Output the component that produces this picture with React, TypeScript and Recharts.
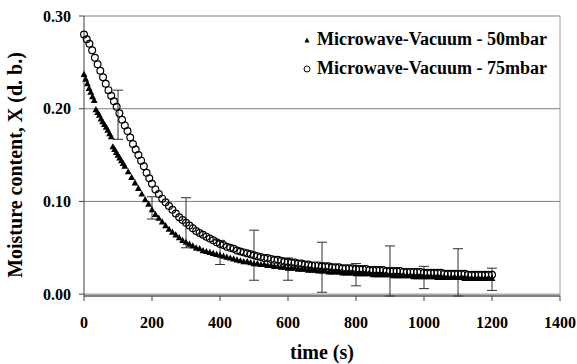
import React from 'react';
import {
  ScatterChart, Scatter, XAxis, YAxis, CartesianGrid, ErrorBar, ReferenceLine, Legend, Label,
} from 'recharts';

const times50 = [0, 5, 10, 15, 20, 25, 30, 35, 40, 45, 50, 55, 60, 65, 70, 75, 80, 85, 90, 95, 100, 105, 110, 115, 120,
  130, 140, 150, 160, 170, 180, 190, 200, 210, 220, 230, 240, 250, 260, 270, 280, 290, 300, 310, 320, 330, 340, 350, 360, 370, 380, 390,
  400, 410, 420, 430, 440, 450, 460, 470, 480, 490, 500, 510, 520, 530, 540, 550, 560, 570, 580, 590, 600, 610, 620, 630, 640, 650, 660,
  670, 680, 690, 700, 710, 720, 730, 740, 750, 760, 770, 780, 790, 800, 810, 820, 830, 840, 850, 860, 870, 880, 890, 900, 910, 920, 930,
  940, 950, 960, 970, 980, 990, 1000, 1010, 1020, 1030, 1040, 1050, 1060, 1070, 1080, 1090, 1100, 1110, 1120, 1130, 1140, 1150, 1160,
  1170, 1180, 1190, 1200];
const moisture50 = [0.237, 0.232, 0.227, 0.222, 0.218, 0.213, 0.209, 0.199, 0.196, 0.193, 0.189, 0.186, 0.183, 0.180, 0.177, 0.173, 0.170,
  0.159, 0.156, 0.153, 0.150, 0.147, 0.144, 0.141, 0.138,
  0.132, 0.126, 0.120, 0.114, 0.108, 0.102, 0.097, 0.091, 0.086, 0.082, 0.078, 0.074, 0.070, 0.067, 0.064, 0.061, 0.058, 0.056, 0.054,
  0.052, 0.050, 0.049, 0.047, 0.046, 0.045, 0.044, 0.043, 0.042, 0.041, 0.040, 0.039, 0.038, 0.037, 0.036, 0.035, 0.035, 0.034, 0.033,
  0.033, 0.032, 0.032, 0.031, 0.031, 0.030, 0.030, 0.029, 0.029, 0.028, 0.028, 0.028, 0.027, 0.027, 0.027, 0.026, 0.026, 0.026, 0.025,
  0.025, 0.025, 0.024, 0.024, 0.024, 0.024, 0.023, 0.023, 0.023, 0.023, 0.022, 0.022, 0.022, 0.022, 0.022, 0.021, 0.021, 0.021, 0.021,
  0.021, 0.021, 0.020, 0.020, 0.020, 0.020, 0.020, 0.020, 0.019, 0.019, 0.019, 0.019, 0.019, 0.019, 0.019, 0.018, 0.018, 0.018, 0.018,
  0.018, 0.018, 0.018, 0.018, 0.017, 0.017, 0.017, 0.017, 0.017, 0.017, 0.017, 0.017, 0.017];

const times75 = [0, 8, 16, 24, 32, 40, 48, 56, 64, 72, 80, 88, 96, 104, 112, 120, 128, 136, 144, 152, 160, 168, 176, 184, 192, 200,
  210, 220, 230, 240, 250, 260, 270, 280, 290, 300, 310, 320, 330, 340, 350, 360, 370, 380, 390,
  400, 410, 420, 430, 440, 450, 460, 470, 480, 490, 500, 510, 520, 530, 540, 550, 560, 570, 580, 590, 600, 610, 620, 630, 640, 650, 660,
  670, 680, 690, 700, 710, 720, 730, 740, 750, 760, 770, 780, 790, 800, 810, 820, 830, 840, 850, 860, 870, 880, 890, 900, 910, 920, 930,
  940, 950, 960, 970, 980, 990, 1000, 1010, 1020, 1030, 1040, 1050, 1060, 1070, 1080, 1090, 1100, 1110, 1120, 1130, 1140, 1150, 1160,
  1170, 1180, 1190, 1200];
const moisture75 = [0.280, 0.275, 0.270, 0.263, 0.255, 0.248, 0.241, 0.234, 0.227, 0.220, 0.214, 0.208, 0.202, 0.195, 0.188, 0.182,
  0.176, 0.169, 0.162, 0.156, 0.150, 0.144, 0.138, 0.131, 0.125, 0.119,
  0.113, 0.108, 0.103, 0.099, 0.095, 0.091, 0.087, 0.083, 0.080, 0.077, 0.074, 0.071, 0.068, 0.066, 0.064, 0.062, 0.060, 0.058, 0.056,
  0.054, 0.053, 0.051, 0.050, 0.049, 0.047, 0.046, 0.045, 0.044, 0.043, 0.042, 0.041, 0.040, 0.039, 0.039, 0.038, 0.037, 0.037, 0.036,
  0.035, 0.035, 0.034, 0.034, 0.033, 0.033, 0.032, 0.032, 0.031, 0.031, 0.031, 0.030, 0.030, 0.030, 0.029, 0.029, 0.029, 0.028, 0.028,
  0.028, 0.028, 0.027, 0.027, 0.027, 0.027, 0.026, 0.026, 0.026, 0.026, 0.026, 0.025, 0.025, 0.025, 0.025, 0.025, 0.024, 0.024, 0.024,
  0.024, 0.024, 0.024, 0.023, 0.023, 0.023, 0.023, 0.023, 0.023, 0.022, 0.022, 0.022, 0.022, 0.022, 0.022, 0.022, 0.021, 0.021, 0.021,
  0.021, 0.021, 0.021, 0.021, 0.021];

const errTimes = [100, 200, 300, 400, 500, 600, 700, 800, 900, 1000, 1100, 1200];
const errMeans = [0.1935, 0.093, 0.077, 0.045, 0.042, 0.027, 0.029, 0.021, 0.025, 0.018, 0.0235, 0.016];
const errHalf = [0.0265, 0.012, 0.027, 0.013, 0.027, 0.012, 0.027, 0.012, 0.027, 0.012, 0.0255, 0.012];

const xTicks = [0, 200, 400, 600, 800, 1000, 1200, 1400];
const yTicks = [0, 0.1, 0.2, 0.3];

const series50Name = 'Microwave-Vacuum - 50mbar';
const series75Name = 'Microwave-Vacuum - 75mbar';

const data50 = times50.map((t, i) => ({ x: t, y: moisture50[i] }));
const data75 = times75.map((t, i) => ({ x: t, y: moisture75[i] }));
const errData = errTimes.map((t, i) => ({ x: t, y: errMeans[i], e: errHalf[i] }));

const FONT = '"Liberation Serif", "Times New Roman", serif';

const Triangle = (props: any) => {
  const { cx, cy } = props;
  if (cx == null || cy == null) return <g />;
  return <path d={`M${cx},${cy - 3.6}L${cx + 3.4},${cy + 2.6}L${cx - 3.4},${cy + 2.6}Z`} fill="#000" />;
};

const Circle = (props: any) => {
  const { cx, cy } = props;
  if (cx == null || cy == null) return <g />;
  return <circle cx={cx} cy={cy} r={3.4} fill="none" stroke="#000" strokeWidth={1.2} />;
};

const Nothing = () => <g />;

const LegendContent = () => (
  <div style={{ fontFamily: FONT, fontWeight: 'bold', fontSize: 18, color: '#000' }}>
    {[series50Name, series75Name].map((name, i) => (
      <div key={name} style={{ display: 'flex', alignItems: 'center', height: 29, whiteSpace: 'nowrap' }}>
        <svg width={12} height={10} style={{ marginRight: 4 }}>
          {i === 0 ? (
            <path d="M6,2.5L8.5,7.5L3.5,7.5Z" fill="#000" />
          ) : (
            <circle cx={6} cy={5} r={3} fill="#fff" stroke="#000" strokeWidth={1} />
          )}
        </svg>
        <span>{name}</span>
      </div>
    ))}
  </div>
);

const YTitle = (props: any) => {
  const { viewBox } = props;
  const cx = 15;
  const cy = viewBox.y + viewBox.height / 2 + 9;
  return (
    <text x={cx} y={cy} transform={`rotate(-90, ${cx}, ${cy})`} textAnchor="middle" dominantBaseline="central"
      fontFamily={FONT} fontWeight="bold" fontSize={20} fill="#000">
      Moisture content, X (d. b.)
    </text>
  );
};

const XTitle = (props: any) => {
  const { viewBox } = props;
  const cx = viewBox.x + viewBox.width / 2;
  return (
    <text x={cx} y={352} textAnchor="middle" dominantBaseline="central"
      fontFamily={FONT} fontWeight="bold" fontSize={20} fill="#000">
      time (s)
    </text>
  );
};

const tickStyle = { fontFamily: FONT, fontWeight: 'bold', fontSize: 16, fill: '#000' } as any;

export default function App() {
  return (
    <div style={{ position: 'absolute', left: 0, top: 0, width: 577, height: 364, background: '#fff' }}>
      <ScatterChart width={577} height={364} margin={{ top: 16, right: 17, left: 0, bottom: 0 }}>
        <CartesianGrid horizontal vertical={false} stroke="#808080" strokeWidth={1} />
        <ReferenceLine x={1400} stroke="#a0a0a0" strokeWidth={1} />
        <XAxis type="number" dataKey="x" domain={[0, 1400]} ticks={xTicks} interval={0}
          height={68} tickSize={5} tickMargin={16} tick={tickStyle}
          axisLine={{ stroke: '#404040' }} tickLine={{ stroke: '#404040' }}>
          <Label content={<XTitle />} />
        </XAxis>
        <YAxis type="number" dataKey="y" domain={[0, 0.3]} ticks={yTicks} interval={0}
          width={84} tickSize={5} tickMargin={8} tick={tickStyle}
          tickFormatter={(v: number) => v.toFixed(2)}
          axisLine={{ stroke: '#404040' }} tickLine={{ stroke: '#404040' }}>
          <Label content={<YTitle />} />
        </YAxis>
        <Legend layout="vertical" align="center" verticalAlign="middle" content={<LegendContent />}
          wrapperStyle={{ left: 301, top: 25, width: 270 }} />
        <Scatter name={series50Name} data={data50} shape={<Triangle />} isAnimationActive={false} />
        <Scatter name={series75Name} data={data75} shape={<Circle />} isAnimationActive={false} />
        <Scatter name="err" data={errData} shape={<Nothing />} isAnimationActive={false} legendType="none">
          <ErrorBar dataKey="e" direction="y" width={5} stroke="#303030" strokeWidth={1} isAnimationActive={false} />
        </Scatter>
      </ScatterChart>
    </div>
  );
}
